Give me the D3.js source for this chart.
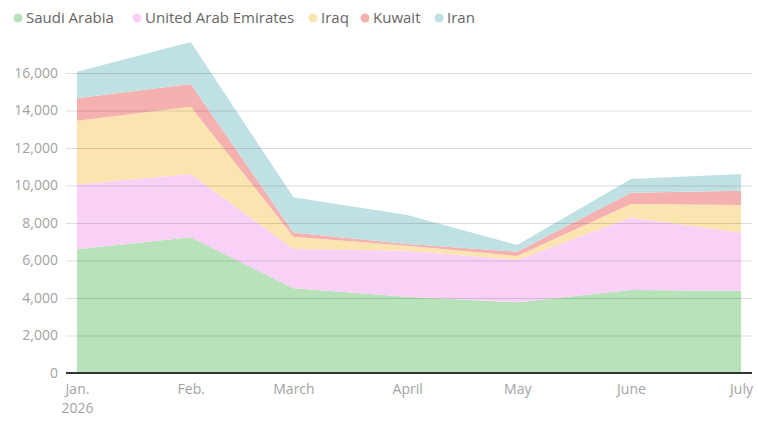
<!DOCTYPE html>
<html>
<head>
<meta charset="utf-8">
<script src="https://cdn.jsdelivr.net/npm/d3@7"></script>
<style>
  body { margin: 0; background: #fff; }
  svg text { font-family: "Open Sans", Lato, sans-serif; }
</style>
</head>
<body>
<svg id="chart" width="758" height="422"></svg>
<script>
// months (first of each month)
const months = ['2026-01-01', '2026-02-01', '2026-03-01', '2026-04-01', '2026-05-01', '2026-06-01', '2026-07-01'];
const monthLabels = ['Jan.', 'Feb.', 'March', 'April', 'May', 'June', 'July'];

// values
const saudiArabia = [6600, 7240, 4520, 4070, 3770, 4430, 4390];
const uae = [3450, 3370, 2090, 2450, 2260, 3870, 3090];
const iraq = [3400, 3590, 660, 270, 210, 710, 1480];
const kuwait = [1200, 1210, 230, 90, 230, 610, 760];
const iran = [1420, 2240, 1870, 1550, 360, 730, 890];

const seriesNames = ['Saudi Arabia', 'United Arab Emirates', 'Iraq', 'Kuwait', 'Iran'];
const seriesValues = [saudiArabia, uae, iraq, kuwait, iran];
const colors = ['#b8e2b9', '#f9d1f7', '#fae5b0', '#f4b1b0', '#c0e1e4'];

const yTicks = [0, 2000, 4000, 6000, 8000, 10000, 12000, 14000, 16000];

const parse = d3.timeParse('%Y-%m-%d');
const rows = months.map((m, i) => {
    const r = { date: parse(m) };
    seriesNames.forEach((s, j) => { r[s] = seriesValues[j][i]; });
    return r;
});

const svg = d3.select('#chart');

const x = d3.scaleTime()
    .domain(d3.extent(rows, d => d.date))
    .range([77, 741]);

const y = d3.scaleLinear()
    .domain([0, 16000])
    .range([373, 73]);

const layers = d3.stack().keys(seriesNames)(rows);

const area = d3.area()
    .x(d => x(d.data.date))
    .y0(d => y(d[0]))
    .y1(d => y(d[1]));

svg.append('g')
    .selectAll('path')
    .data(layers)
    .join('path')
    .attr('d', area)
    .attr('fill', (d, i) => colors[i]);

// gridlines on top of areas
const yAxis = d3.axisLeft(y)
    .tickValues(yTicks)
    .tickSize(-(752 - 66))
    .tickFormat(d3.format(','));

const gy = svg.append('g')
    .attr('transform', 'translate(66,0)')
    .call(yAxis);
gy.select('.domain').remove();
gy.selectAll('.tick line')
    .attr('stroke', '#000')
    .attr('stroke-opacity', 0.13);
gy.selectAll('.tick text')
    .attr('x', -8)
    .attr('fill', '#a3a3a3')
    .style('font-size', '14px');
gy.selectAll('.tick').filter(d => d === 0).select('line').remove();

// baseline
svg.append('line')
    .attr('x1', 66).attr('x2', 752)
    .attr('y1', y(0)).attr('y2', y(0))
    .attr('stroke', '#333')
    .attr('stroke-width', 2);

const xAxis = d3.axisBottom(x)
    .tickValues(rows.map(d => d.date))
    .tickSize(0)
    .tickPadding(11)
    .tickFormat((d, i) => monthLabels[i]);

const gx = svg.append('g')
    .attr('transform', `translate(0,${y(0)})`)
    .call(xAxis);
gx.select('.domain').remove();
gx.selectAll('.tick text')
    .attr('fill', '#a3a3a3')
    .style('font-size', '14px');
gx.selectAll('.tick').filter((d, i) => i === 0)
    .append('text')
    .attr('y', 30)
    .attr('dy', '0.71em')
    .attr('fill', '#a3a3a3')
    .attr('text-anchor', 'middle')
    .style('font-size', '14px')
    .text('2026');

// legend
const legendX = [18, 137, 313, 365, 439];
const legend = svg.append('g')
    .selectAll('g')
    .data(seriesNames)
    .join('g')
    .attr('transform', (d, i) => `translate(${legendX[i]},18)`);
legend.append('circle')
    .attr('r', 4.5)
    .attr('fill', (d, i) => colors[i]);
legend.append('text')
    .attr('x', 8)
    .attr('dy', '0.35em')
    .attr('fill', '#666')
    .style('font-size', '15px')
    .text(d => d);
</script>
</body>
</html>
